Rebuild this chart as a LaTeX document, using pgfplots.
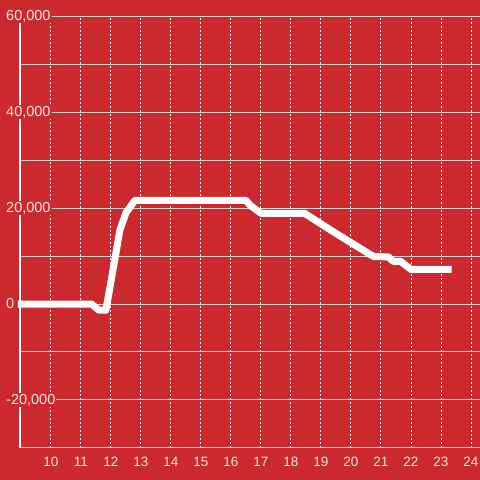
\documentclass[border=0pt]{standalone}
\usepackage{pgfplots}
\pgfplotsset{compat=1.18}
\usepackage{fontspec}
\setmainfont{Liberation Sans}
\definecolor{bg}{RGB}{204,41,46}
\definecolor{tickc}{RGB}{242,230,230}
\definecolor{hgrid}{RGB}{214,214,214}
\begin{document}
\begin{tikzpicture}[x=1pt,y=1pt]
\fill[bg] (0,0) rectangle (480,480);
\begin{axis}[
  at={(20pt,32pt)}, anchor=south west,
  scale only axis, width=460pt, height=432pt,
  xmin=8.967, xmax=24.3, ymin=-30000, ymax=60000,
  clip=false,
  axis lines*=left,
  x axis line style={draw=none},
  y axis line style={white, line width=2.5pt},
  xtick={10,...,24},
  ytick={-20000,20000,40000,60000},
  minor ytick={-30000,-10000,10000,30000,50000},
  extra y ticks={0},
  extra y tick style={grid style={white, line width=2.5pt, solid}},
  scaled y ticks=false,
  major tick length=0pt, minor tick length=0pt,
  xmajorgrids, ymajorgrids, yminorgrids,
  x grid style={white, line width=1pt, dash pattern=on 2pt off 2pt},
  y grid style={hgrid, line width=1pt},
  ticklabel style={text=tickc},
  xticklabel style={font=\fontsize{13.5}{15}\selectfont, anchor=center, yshift=-14pt},
  yticklabel style={font=\fontsize{14.5}{16}\selectfont, anchor=west, xshift=-15pt, fill=bg, inner sep=1pt},
  /pgf/number format/.cd, 1000 sep={,}, assume math mode=true
]
\addplot[white, line width=7pt, line join=round] coordinates {
(8.9,0) (11.35,0) (11.6,-1300) (11.83,-1300) (12.05,6500) (12.3,15500) (12.5,19000) (12.8,21600)
(16.5,21600) (16.65,20500) (17.0,18900) (18.45,18900) (19.5,14700) (20.75,9900)
(21.25,9800) (21.4,8900) (21.65,8900) (22.0,7200) (23.35,7200)
};
\end{axis}
\pgfresetboundingbox
\useasboundingbox (0,0) rectangle (480,480);
\end{tikzpicture}
\end{document}
